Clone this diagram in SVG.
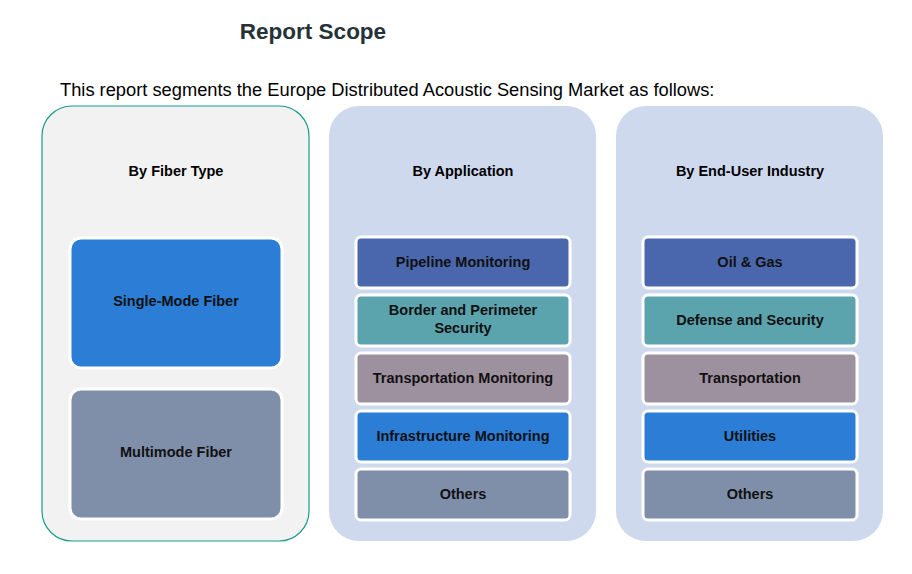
<svg xmlns="http://www.w3.org/2000/svg" width="912" height="574" viewBox="0 0 912 574">
<style>
text{font-family:"Liberation Sans",Arial,sans-serif;}
.h{font-weight:bold;font-size:14.5px;fill:#000;text-anchor:middle;}
.l{font-weight:bold;font-size:14.5px;fill:#111;text-anchor:middle;}
.b{stroke:#fff;stroke-width:3;}
.panel{fill:#cfd9ee;}
</style>
<rect width="912" height="574" fill="#fff"/>
<text x="313" y="39" font-size="22.5" font-weight="bold" fill="#253238" text-anchor="middle">Report Scope</text>
<text x="60" y="96" font-size="18.3" fill="#000">This report segments the Europe Distributed Acoustic Sensing Market as follows:</text>
<g id="fiber-type">
<rect x="42" y="106" width="267" height="435" rx="30" fill="#f2f2f2" stroke="#1a9a8f" stroke-width="1.2"/>
<text class="h" x="176" y="176">By Fiber Type</text>
<g id="single-mode"><rect class="b" x="70" y="238" width="212" height="130" rx="11" fill="#2b7dd6"/><text class="l" x="176" y="306">Single-Mode Fiber</text></g>
<g id="multimode"><rect class="b" x="70" y="389" width="212" height="130" rx="11" fill="#7f8fa9"/><text class="l" x="176" y="457">Multimode Fiber</text></g>
</g>
<g id="application">
<rect class="panel" x="329" y="106" width="267" height="435" rx="30"/>
<text class="h" x="463" y="176">By Application</text>
<g id="app-pipeline"><rect class="b" x="356" y="237" width="214" height="51" rx="5" fill="#4a67ad"/><text class="l" x="463" y="267">Pipeline Monitoring</text></g>
<g id="app-border"><rect class="b" x="356" y="295" width="214" height="51" rx="5" fill="#5ba3ad"/><text class="l" x="463" y="315">Border and Perimeter</text><text class="l" x="463" y="333">Security</text></g>
<g id="app-transport"><rect class="b" x="356" y="353" width="214" height="51" rx="5" fill="#9d909f"/><text class="l" x="463" y="383">Transportation Monitoring</text></g>
<g id="app-infra"><rect class="b" x="356" y="411" width="214" height="51" rx="5" fill="#2b7dd6"/><text class="l" x="463" y="441">Infrastructure Monitoring</text></g>
<g id="app-others"><rect class="b" x="356" y="469" width="214" height="51" rx="5" fill="#7f8fa9"/><text class="l" x="463" y="499">Others</text></g>
</g>
<g id="end-user">
<rect class="panel" x="616" y="106" width="267" height="435" rx="30"/>
<text class="h" x="750" y="176">By End-User Industry</text>
<g id="eu-oil"><rect class="b" x="643" y="237" width="214" height="51" rx="5" fill="#4a67ad"/><text class="l" x="750" y="267">Oil &amp; Gas</text></g>
<g id="eu-defense"><rect class="b" x="643" y="295" width="214" height="51" rx="5" fill="#5ba3ad"/><text class="l" x="750" y="325">Defense and Security</text></g>
<g id="eu-transport"><rect class="b" x="643" y="353" width="214" height="51" rx="5" fill="#9d909f"/><text class="l" x="750" y="383">Transportation</text></g>
<g id="eu-utilities"><rect class="b" x="643" y="411" width="214" height="51" rx="5" fill="#2b7dd6"/><text class="l" x="750" y="441">Utilities</text></g>
<g id="eu-others"><rect class="b" x="643" y="469" width="214" height="51" rx="5" fill="#7f8fa9"/><text class="l" x="750" y="499">Others</text></g>
</g>
<g id="connectors"/>
</svg>
